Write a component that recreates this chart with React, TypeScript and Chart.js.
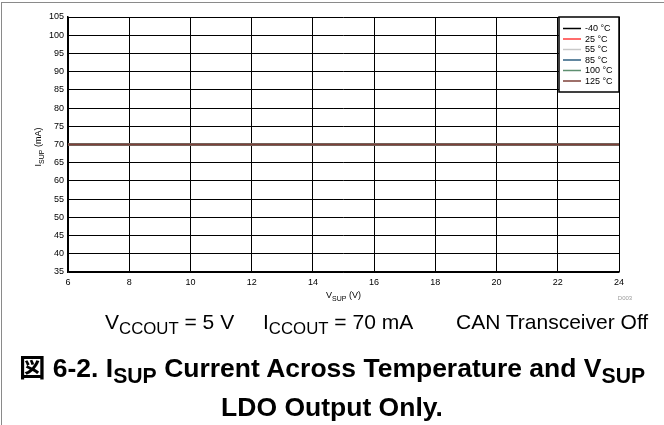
import React, { useEffect, useRef } from "react";
import { Chart, registerables } from "chart.js";

Chart.register(...registerables);

const vsup = [6, 8, 10, 12, 14, 16, 18, 20, 22, 24];
const tempLabels = ["-40 °C", "25 °C", "55 °C", "85 °C", "100 °C", "125 °C"];
const tempColors = ["#000000", "#ff3b3b", "#c8c8c8", "#2e5f80", "#5e8f70", "#7e4039"];
const isupM40 = [70, 70, 70, 70, 70, 70, 70, 70, 70, 70];
const isup25 = [70, 70, 70, 70, 70, 70, 70, 70, 70, 70];
const isup55 = [70, 70, 70, 70, 70, 70, 70, 70, 70, 70];
const isup85 = [70, 70, 70, 70, 70, 70, 70, 70, 70, 70];
const isup100 = [70, 70, 70, 70, 70, 70, 70, 70, 70, 70];
const isup125 = [70, 70, 70, 70, 70, 70, 70, 70, 70, 70];
const seriesValues = [isupM40, isup25, isup55, isup85, isup100, isup125];

const FONT = "'Liberation Sans', Arial, Helvetica, sans-serif";

function drawSubText(ctx: CanvasRenderingContext2D, parts: [string, boolean][], size: number, subSize: number) {
  let x = 0;
  for (const [t, sub] of parts) {
    ctx.font = `${sub ? subSize : size}px ${FONT}`;
    ctx.fillText(t, x, sub ? size * 0.3 : 0);
    x += ctx.measureText(t).width;
  }
  return x;
}

function measureSubText(ctx: CanvasRenderingContext2D, parts: [string, boolean][], size: number, subSize: number) {
  let x = 0;
  for (const [t, sub] of parts) {
    ctx.font = `${sub ? subSize : size}px ${FONT}`;
    x += ctx.measureText(t).width;
  }
  return x;
}

const decorPlugin = {
  id: "decor",
  afterDraw(chart: any) {
    const ctx: CanvasRenderingContext2D = chart.ctx;
    const ca = chart.chartArea;
    ctx.save();
    ctx.fillStyle = "#000";
    ctx.textBaseline = "alphabetic";
    // x title
    const xParts: [string, boolean][] = [["V", false], ["SUP", true], [" (V)", false]];
    const xw = measureSubText(ctx, xParts, 9, 7);
    ctx.save();
    ctx.translate((ca.left + ca.right) / 2 - xw / 2, ca.bottom + 26);
    drawSubText(ctx, xParts, 9, 7);
    ctx.restore();
    // y title
    const yParts: [string, boolean][] = [["I", false], ["SUP", true], [" (mA)", false]];
    const yw = measureSubText(ctx, yParts, 9, 7);
    ctx.save();
    ctx.translate(41, 147 + yw / 2);
    ctx.rotate(-Math.PI / 2);
    drawSubText(ctx, yParts, 9, 7);
    ctx.restore();
    // D003
    ctx.font = `6px ${FONT}`;
    ctx.fillStyle = "#9a9a9a";
    ctx.textAlign = "center";
    ctx.fillText("D003", ca.right + 6, ca.bottom + 28);
    // legend box
    const lx = ca.right - 60;
    const ly = ca.top;
    const lw = 60;
    const lh = 75;
    ctx.fillStyle = "#fff";
    ctx.fillRect(lx, ly, lw, lh);
    ctx.strokeStyle = "#000";
    ctx.lineWidth = 1.5;
    ctx.strokeRect(lx, ly, lw, lh);
    ctx.textAlign = "left";
    ctx.textBaseline = "middle";
    ctx.font = `9px ${FONT}`;
    chart.data.datasets.forEach((ds: any, i: number) => {
      const y = ly + 11.5 + i * 10.5;
      ctx.strokeStyle = ds.borderColor;
      ctx.lineWidth = 1.5;
      ctx.beginPath();
      ctx.moveTo(lx + 4, y);
      ctx.lineTo(lx + 22, y);
      ctx.stroke();
      ctx.fillStyle = "#000";
      ctx.fillText(ds.label, lx + 26, y + 0.5);
    });
    ctx.restore();
  },
};

export default function App() {
  const ref = useRef<HTMLCanvasElement>(null);
  useEffect(() => {
    if (!ref.current) return;
    const chart = new Chart(ref.current, {
      type: "line",
      data: {
        datasets: seriesValues.map((vals, i) => ({
          label: tempLabels[i],
          data: vals.map((v, j) => ({ x: vsup[j], y: v })),
          borderColor: tempColors[i],
          backgroundColor: tempColors[i],
          borderWidth: 2,
          pointRadius: 0,
          fill: false,
          order: seriesValues.length - 1 - i,
        })),
      },
      options: {
        responsive: false,
        animation: false,
        devicePixelRatio: 1,
        layout: { padding: { top: 17, right: 45, left: 0, bottom: 0 } },
        plugins: { legend: { display: false }, tooltip: { enabled: false } },
        scales: {
          x: {
            type: "linear",
            min: 6,
            max: 24,
            afterFit: (s: any) => {
              s.height = 153;
            },
            ticks: { stepSize: 2, color: "#000", font: { size: 9, family: FONT }, padding: 5, maxRotation: 0 },
            grid: { color: "#000", lineWidth: 1, drawTicks: false },
            border: { color: "#000", width: 1.5 },
          },
          y: {
            type: "linear",
            min: 35,
            max: 105,
            afterFit: (s: any) => {
              s.width = 68;
            },
            ticks: { stepSize: 5, color: "#000", font: { size: 9, family: FONT }, padding: 4 },
            grid: { color: "#000", lineWidth: 1, drawTicks: false },
            border: { color: "#000", width: 1.5 },
          },
        },
      },
      plugins: [decorPlugin],
    });
    return () => chart.destroy();
  }, []);

  const capStyle: React.CSSProperties = {
    position: "absolute",
    top: 310,
    fontFamily: FONT,
    fontSize: 21,
    color: "#000",
    whiteSpace: "nowrap",
    lineHeight: "24px",
  };
  const subStyle: React.CSSProperties = { fontSize: "0.8em", verticalAlign: "-0.3em", lineHeight: 0 };
  const titleStyle: React.CSSProperties = {
    position: "absolute",
    left: 0,
    width: 664,
    textAlign: "center",
    fontFamily: `${FONT}, 'Noto Sans CJK JP'`,
    fontWeight: "bold",
    fontSize: 26.5,
    color: "#000",
    whiteSpace: "nowrap",
    lineHeight: "30px",
  };
  return (
    <div style={{ position: "fixed", left: 0, top: 0, width: 664, height: 425, background: "#fff", overflow: "hidden" }}>
      <canvas ref={ref} width={664} height={425} style={{ position: "absolute", left: 0, top: 0 }} />
      <div style={{ position: "absolute", left: 1, top: 2, width: 663, height: 423, borderLeft: "1px solid #8a8a8a", borderTop: "1px solid #8a8a8a" }} />
      <div style={{ ...capStyle, left: 105 }}>
        V<sub style={subStyle}>CCOUT</sub> = 5 V
      </div>
      <div style={{ ...capStyle, left: 263 }}>
        I<sub style={subStyle}>CCOUT</sub> = 70 mA
      </div>
      <div style={{ ...capStyle, left: 456 }}>CAN Transceiver Off</div>
      <div style={{ ...titleStyle, top: 353 }}>
        図 6-2. I<sub style={subStyle}>SUP</sub> Current Across Temperature and V<sub style={subStyle}>SUP</sub>
      </div>
      <div style={{ ...titleStyle, top: 392 }}>LDO Output Only.</div>
    </div>
  );
}
